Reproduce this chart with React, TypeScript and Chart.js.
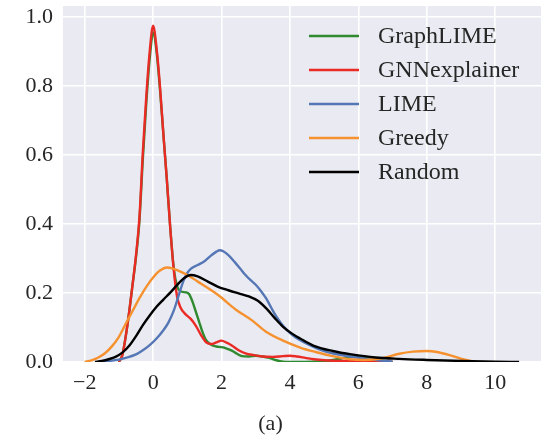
import React, { useEffect, useRef } from "react";
import { Chart, registerables } from "chart.js";

Chart.register(...registerables);

// Kernel density curves per explainer
const seriesNames = ["GraphLIME", "GNNexplainer", "LIME", "Greedy", "Random"];
const seriesColors = ["#2F8A2F", "#EA2A25", "#5577B5", "#F5922F", "#000000"];

const graphLimeX = [-1.0, -0.9, -0.8, -0.7, -0.6, -0.5, -0.4, -0.3, -0.2, -0.1, 0, 0.1, 0.2, 0.3, 0.4, 0.5, 0.6, 0.7, 0.8, 0.95, 1.05, 1.15, 1.25, 1.35, 1.45, 1.55, 1.7, 1.85, 2.0, 2.15, 2.3, 2.45, 2.6, 2.8, 3.0, 3.2, 3.4, 3.6, 3.8, 4.2, 5.0, 5.5, 5.8, 6.1, 6.4, 6.8, 7.0];
const graphLimeY = [0, 0.02, 0.075, 0.145, 0.225, 0.305, 0.41, 0.59, 0.75, 0.88, 0.955, 0.9, 0.79, 0.66, 0.53, 0.39, 0.275, 0.22, 0.205, 0.202, 0.197, 0.175, 0.145, 0.115, 0.085, 0.063, 0.05, 0.045, 0.043, 0.039, 0.033, 0.024, 0.017, 0.016, 0.018, 0.016, 0.012, 0.005, 0.001, 0, 0.002, 0.01, 0.016, 0.016, 0.01, 0.002, 0];

const gnnX = [-1.0, -0.9, -0.8, -0.7, -0.6, -0.5, -0.4, -0.3, -0.2, -0.1, 0, 0.1, 0.2, 0.3, 0.4, 0.5, 0.6, 0.7, 0.8, 0.95, 1.1, 1.25, 1.4, 1.55, 1.7, 1.85, 2.0, 2.15, 2.3, 2.5, 2.7, 2.95, 3.2, 3.5, 3.8, 4.0, 4.2, 4.45, 4.7, 5.0, 5.5, 6.0, 6.5, 7.0];
const gnnY = [0, 0.02, 0.075, 0.145, 0.225, 0.31, 0.42, 0.61, 0.77, 0.9, 0.975, 0.91, 0.8, 0.66, 0.53, 0.39, 0.27, 0.19, 0.158, 0.138, 0.125, 0.105, 0.078, 0.057, 0.052, 0.057, 0.062, 0.056, 0.048, 0.034, 0.025, 0.02, 0.016, 0.015, 0.017, 0.018, 0.016, 0.012, 0.008, 0.005, 0.003, 0.003, 0.002, 0];

const limeX = [-1.6, -1.3, -1.0, -0.8, -0.5, -0.3, -0.1, 0.1, 0.3, 0.45, 0.6, 0.7, 0.8, 0.9, 1.0, 1.1, 1.3, 1.5, 1.7, 1.85, 1.95, 2.05, 2.2, 2.4, 2.55, 2.7, 2.85, 3.0, 3.15, 3.3, 3.45, 3.6, 3.75, 3.9, 4.1, 4.3, 4.55, 4.8, 5.05, 5.3, 5.75, 6.2, 6.6, 7.0];
const limeY = [0, 0.003, 0.007, 0.012, 0.022, 0.034, 0.049, 0.068, 0.092, 0.115, 0.148, 0.178, 0.21, 0.238, 0.258, 0.27, 0.281, 0.292, 0.309, 0.32, 0.324, 0.321, 0.31, 0.288, 0.27, 0.252, 0.237, 0.224, 0.206, 0.185, 0.158, 0.132, 0.111, 0.094, 0.076, 0.063, 0.05, 0.039, 0.03, 0.024, 0.016, 0.01, 0.005, 0.001];

const greedyX = [-2.0, -1.8, -1.6, -1.4, -1.2, -1.0, -0.8, -0.6, -0.4, -0.2, 0.0, 0.2, 0.4, 0.6, 0.8, 1.0, 1.4, 1.9, 2.4, 2.9, 3.3, 3.8, 4.3, 4.75, 5.25, 5.75, 6.2, 6.7, 7.2, 7.6, 8.0, 8.3, 8.7, 9.05, 9.4];
const greedyY = [0, 0.005, 0.013, 0.026, 0.046, 0.073, 0.111, 0.148, 0.185, 0.218, 0.245, 0.265, 0.274, 0.27, 0.262, 0.252, 0.227, 0.194, 0.153, 0.12, 0.088, 0.062, 0.042, 0.029, 0.017, 0.008, 0.006, 0.011, 0.024, 0.03, 0.032, 0.029, 0.019, 0.008, 0.001];

const randomX = [-1.7, -1.5, -1.3, -1.1, -0.9, -0.7, -0.5, -0.3, -0.1, 0.1, 0.3, 0.5, 0.7, 0.9, 1.1, 1.3, 1.6, 1.9, 2.2, 2.5, 2.8, 3.05, 3.3, 3.55, 3.8, 4.05, 4.3, 4.7, 5.25, 5.8, 6.5, 7.2, 8.0, 9.0, 10.0, 10.7];
const randomY = [0, 0.003, 0.008, 0.015, 0.027, 0.047, 0.075, 0.107, 0.135, 0.16, 0.181, 0.201, 0.223, 0.243, 0.252, 0.248, 0.233, 0.218, 0.208, 0.199, 0.19, 0.178, 0.156, 0.128, 0.102, 0.083, 0.068, 0.047, 0.032, 0.022, 0.013, 0.009, 0.006, 0.003, 0.001, 0];

const seriesX = [graphLimeX, gnnX, limeX, greedyX, randomX];
const seriesY = [graphLimeY, gnnY, limeY, greedyY, randomY];

const xTicks = [-2, 0, 2, 4, 6, 8, 10];
const yTicks = [0, 0.2, 0.4, 0.6, 0.8, 1.0];

const FONT = '"Liberation Serif", "Times New Roman", serif';
const TEXT_COLOR = "#262626";

const panelBackground = {
  id: "panelBackground",
  beforeDraw(chart: any) {
    const { ctx, chartArea } = chart;
    ctx.save();
    ctx.fillStyle = "#EAEAF2";
    ctx.fillRect(chartArea.left, chartArea.top, chartArea.right - chartArea.left, chartArea.bottom - chartArea.top);
    ctx.restore();
  },
};

const insideLegend = {
  id: "insideLegend",
  afterDraw(chart: any) {
    const { ctx } = chart;
    ctx.save();
    ctx.font = `24px ${FONT}`;
    ctx.textBaseline = "middle";
    ctx.textAlign = "left";
    chart.data.datasets.forEach((ds: any, i: number) => {
      const y = 36 + i * 34;
      ctx.strokeStyle = ds.borderColor;
      ctx.lineWidth = 2.4;
      ctx.beginPath();
      ctx.moveTo(309, y);
      ctx.lineTo(359, y);
      ctx.stroke();
      ctx.fillStyle = TEXT_COLOR;
      ctx.fillText(ds.label, 378, y + 1);
    });
    ctx.restore();
  },
};

export default function App() {
  const canvasRef = useRef<HTMLCanvasElement | null>(null);

  useEffect(() => {
    if (!canvasRef.current) return;
    const datasets = seriesNames.map((name, i) => ({
      label: name,
      data: seriesX[i].map((x, j) => ({ x, y: seriesY[i][j] })),
      borderColor: seriesColors[i],
      backgroundColor: seriesColors[i],
      borderWidth: 2.4,
      pointRadius: 0,
      fill: false,
      cubicInterpolationMode: "monotone" as const,
      order: seriesNames.length - i,
    }));

    const chart = new Chart(canvasRef.current, {
      type: "line",
      data: { datasets },
      options: {
        responsive: false,
        animation: false,
        layout: { padding: { top: 6, right: 3, left: 0, bottom: 0 } },
        plugins: {
          legend: { display: false },
          tooltip: { enabled: false },
          title: {
            display: true,
            text: "(a)",
            position: "bottom",
            color: TEXT_COLOR,
            font: { family: FONT, size: 22, weight: "normal" },
            padding: { top: 10, bottom: 0 },
          },
        },
        scales: {
          x: {
            type: "linear",
            min: -2.635,
            max: 11.34,
            border: { display: false },
            grid: { color: "#FFFFFF", lineWidth: 1.6, drawTicks: false },
            afterBuildTicks: (scale: any) => {
              scale.ticks = xTicks.map((v) => ({ value: v }));
            },
            afterFit: (scale: any) => {
              scale.height = 38.6;
              scale.paddingLeft = 0;
              scale.paddingRight = 0;
            },
            ticks: {
              padding: 8,
              color: TEXT_COLOR,
              font: { family: FONT, size: 22 },
              callback: (v: any) => (Number(v) < 0 ? "\u2212" + Math.abs(Number(v)) : String(v)),
            },
          },
          y: {
            type: "linear",
            min: 0,
            max: 1.032,
            border: { display: false },
            grid: { color: "#FFFFFF", lineWidth: 1.6, drawTicks: false },
            afterBuildTicks: (scale: any) => {
              scale.ticks = yTicks.map((v) => ({ value: v }));
            },
            afterFit: (scale: any) => {
              scale.width = 63;
              scale.paddingTop = 0;
              scale.paddingBottom = 0;
            },
            ticks: {
              padding: 10,
              color: TEXT_COLOR,
              font: { family: FONT, size: 22 },
              callback: (v: any) => Number(v).toFixed(1),
            },
          },
        },
      },
      plugins: [panelBackground, insideLegend],
    });

    return () => chart.destroy();
  }, []);

  return (
    <div style={{ position: "fixed", left: 0, top: 0, width: 544, height: 437, background: "#FFFFFF" }}>
      <canvas ref={canvasRef} width={544} height={437} />
    </div>
  );
}
